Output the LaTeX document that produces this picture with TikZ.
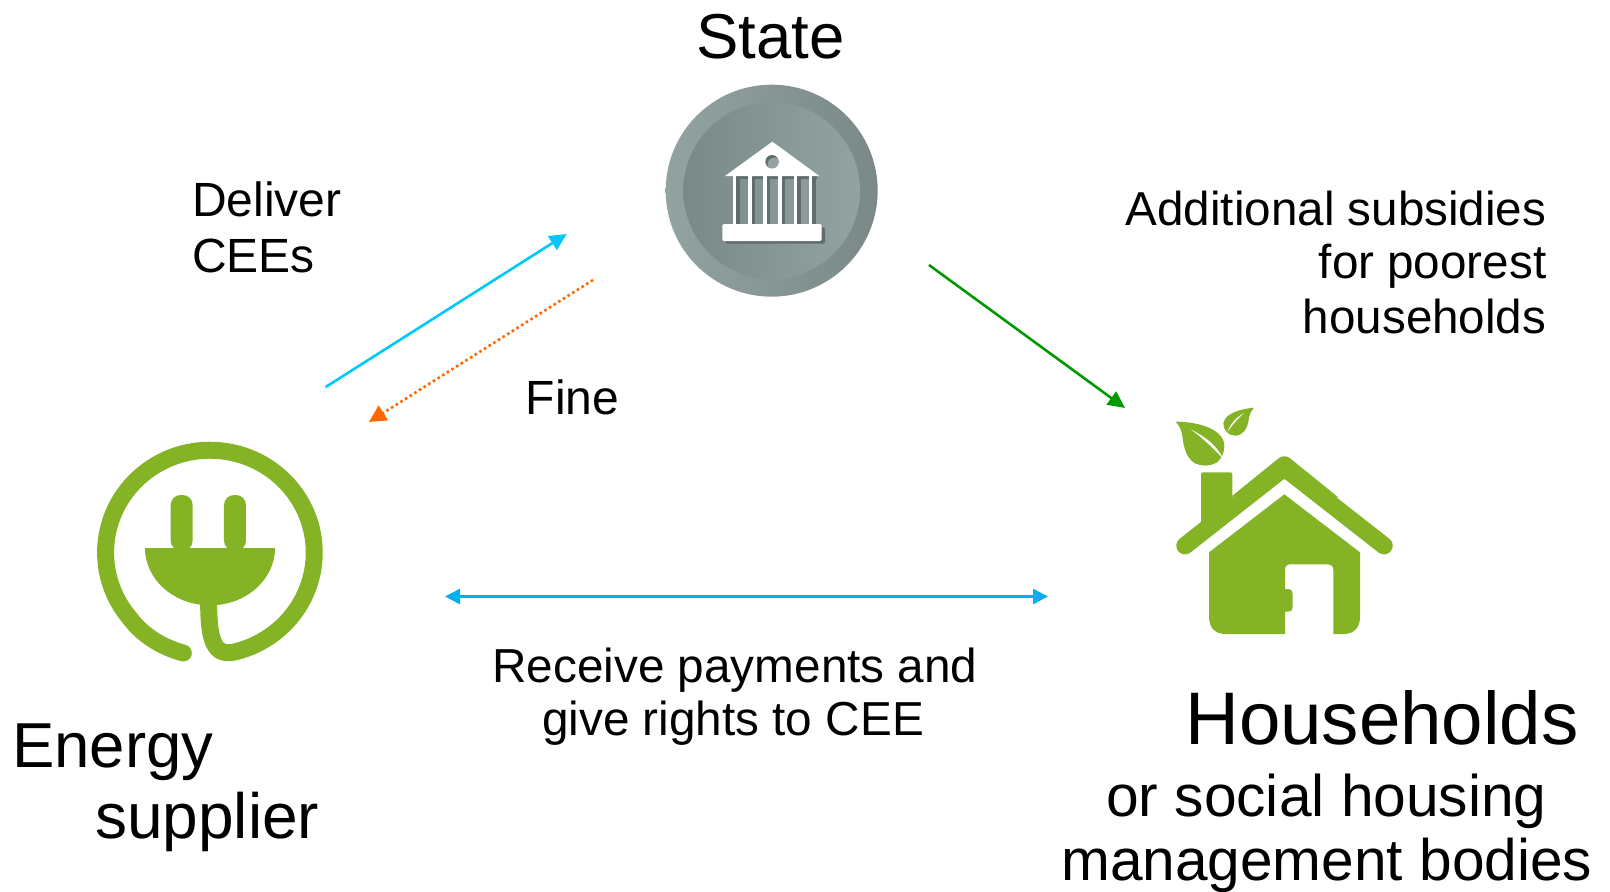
\documentclass[tikz,border=0pt]{standalone}
\usepackage{fontspec}
\setmainfont{Liberation Sans}
\usetikzlibrary{arrows.meta}
\definecolor{leafgreen}{HTML}{84B426}
\definecolor{coldA}{HTML}{00C8FA}
\definecolor{coldB}{HTML}{00B0F0}
\definecolor{warm}{HTML}{FF6600}
\definecolor{forest}{HTML}{009A00}
\definecolor{stoneL}{HTML}{93A3A2}
\definecolor{stoneD}{HTML}{7A8988}
\definecolor{stoneS}{HTML}{5F6E6D}
\tikzset{
  txt/.style={inner sep=0pt,font=\fontsize{#1}{#1}\selectfont},
  lw/.style={txt=#1,anchor=base west},
  le/.style={txt=#1,anchor=base east},
  lc/.style={txt=#1,anchor=base},
  conn/.style={line width=2.6pt,-{Triangle[length=17pt,width=16pt]}},
  zoomA/.style={shift={(640,70)},scale=1/3},
  zoomB/.style={shift={(80,420)},scale=1/3},
  zoomC/.style={shift={(1160,395)},scale=1/3},
  gf/.style={fill=leafgreen,draw=none}
}
\begin{document}
\begin{tikzpicture}[x=1pt,y=-1pt]
\useasboundingbox (0,0) rectangle (1610,892);

% state icon
\begin{scope}[zoomA]
  \shade[left color=stoneL,right color=stoneD] (395,362) circle [radius=318];
  \shade[left color=stoneD,right color=stoneL] (395,362) circle [radius=265];
  \fill[stoneS,rounded corners=2pt] (257,472) rectangle (555,521);
  \fill[stoneS] (285,318) rectangle (530,327);
  \foreach \cx in {278,324,370,415,461,506}{
    \fill[stoneS] (\cx+11,320) rectangle (\cx+21,462);
    \fill[white] (\cx,318) rectangle (\cx+11,462);
  }
  \fill[white] (397,215) -- (538,318) -- (255,318) -- cycle;
  \fill[stoneS] (396,275) circle [radius=20];
  \begin{scope}
    \clip (396,275) circle [radius=20];
    \fill[stoneL] (403,283) circle [radius=20];
  \end{scope}
  \fill[white,rounded corners=2pt] (247,462) rectangle (545,513);
\end{scope}

% plug icon
\begin{scope}[zoomB]
  \draw[leafgreen,line width=17pt,line cap=round,line join=round]
    (310,699) .. controls (240,680) and (185,642) .. (150,595)
    arc[start angle=140,delta angle=290.4,x radius=313,y radius=307]
    .. controls (420,713) and (386,703) .. (386,550);
  \fill[leafgreen] (195,384) arc[start angle=180,delta angle=-180,x radius=195,y radius=172] -- cycle;
  \fill[leafgreen,rounded corners=10pt] (272,392) -- (272,225) -- (338,225) -- (338,392) -- cycle;
  \fill[leafgreen,rounded corners=10pt] (432,392) -- (432,225) -- (498,225) -- (498,392) -- cycle;
\end{scope}

% house icon
\begin{scope}[zoomC]
  \fill[gf,rounded corners=2pt] (123,400) -- (123,232) -- (217,232) -- (217,330) -- cycle;
  \draw[leafgreen,line width=17.5pt,line cap=round,line join=round] (75,452) -- (373,218) -- (672,452);
  \fill[gf] (373,252) -- (210,308) [rounded corners=7pt] -- (373,176) [sharp corners] -- (536,308) -- cycle;
  \fill[gf] (147,472) -- (373,298) -- (600,472) -- (600,665)
     .. controls (600,700) and (580,717) .. (550,717) -- (520,717)
     -- (520,525) .. controls (520,514) and (514,508) .. (505,508)
     -- (390,508) .. controls (380,508) and (375,514) .. (375,525)
     -- (375,582) -- (385,582) .. controls (394,582) and (398,588) .. (398,596)
     -- (398,636) .. controls (398,645) and (394,650) .. (385,650)
     -- (375,650) -- (375,717) -- (197,717)
     .. controls (167,717) and (147,700) .. (147,665) -- cycle;
  \fill[gf] (47,80) .. controls (120,80) and (195,105) .. (193,155)
     .. controls (192,175) and (185,190) .. (170,203)
     .. controls (150,214) and (125,215) .. (105,205)
     .. controls (80,190) and (72,160) .. (68,130)
     .. controls (65,105) and (60,95) .. (47,80) -- cycle;
  \fill[white] (92,103) .. controls (135,125) and (170,150) .. (190,192)
     .. controls (165,165) and (130,130) .. (92,103) -- cycle;
  \fill[gf] (282,38) .. controls (240,42) and (195,55) .. (190,85)
     .. controls (190,105) and (205,122) .. (225,122)
     .. controls (250,122) and (262,100) .. (266,75)
     .. controls (268,60) and (272,50) .. (282,38) -- cycle;
  \fill[white] (252,54) .. controls (228,68) and (212,85) .. (203,110)
     .. controls (218,88) and (232,72) .. (252,54) -- cycle;
\end{scope}

% connector ends
\coordinate (bs) at (325.7,387);
\coordinate (be) at (566.7,234);
\coordinate (os) at (593,280);
\coordinate (oe) at (369,422);
\coordinate (gs) at (929,265);
\coordinate (ge) at (1125,408);
\coordinate (ds) at (445,596.5);
\coordinate (de) at (1048,596.5);

\draw[conn,coldA] (bs) -- (be);
\draw[warm,line width=2.6pt,dash pattern=on 2.6pt off 2.9pt,-{Triangle[length=17pt,width=17pt]}] (os) -- (oe);
\draw[conn,forest] (gs) -- (ge);
\draw[coldB,line width=2.6pt,{Triangle[length=15pt,width=15pt]}-{Triangle[length=15pt,width=15pt]}] (ds) -- (de);

% labels
\node[lw=63.5] (state) at (696,58) {State};
\node[lw=48] (del1) at (192,216) {Deliver};
\node[lw=48] (del2) at (192,272) {CEEs};
\node[lw=48] (fine) at (525.5,414) {Fine};
\node[le=47.6] (add1) at (1546.5,225) {Additional subsidies};
\node[le=47.6] (add2) at (1546.5,278) {for poorest};
\node[le=47.6] (add3) at (1546.5,333) {households};
\node[lc=47.7] (rec1) at (735,682) {Receive payments and};
\node[lc=47.7] (rec2) at (733,735) {give rights to CEE};
\node[lw=63.5] (en1) at (12,767) {Energy};
\node[lw=64] (en2) at (95,838) {supplier};
\node[lw=74.5] (hh1) at (1185,744) {Households};
\node[lw=58.7] (hh2) at (1106,816) {or social housing};
\node[lw=58.6] (hh3) at (1061,880) {management bodies};
\end{tikzpicture}
\end{document}
